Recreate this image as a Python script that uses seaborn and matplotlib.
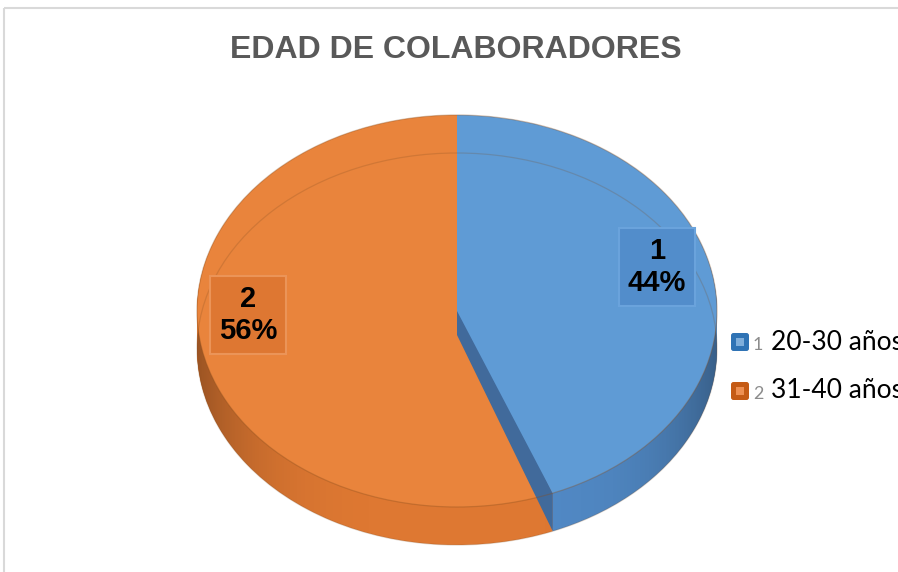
import matplotlib
matplotlib.use("Agg")
import matplotlib.pyplot as plt
from matplotlib.patches import Polygon, Ellipse, FancyBboxPatch
from matplotlib.transforms import Affine2D
import numpy as np
import seaborn as sns

# ---- data ----
categories = ["20-30 años", "31-40 años"]
slice_ids = ["1", "2"]
shares = [44, 56]
title = "EDAD DE COLABORADORES"

sns.set_theme(style="white")
plt.rcParams["font.family"] = ["Liberation Sans", "DejaVu Sans"]

top_colors = ["#5F9BD5", "#E9843C"]
side_colors = ["#5189C5", "#DE7832"]
band_color = "#416A9B"

W, H = 898, 572
fig = plt.figure(figsize=(W / 100, H / 100), dpi=100)
ax = fig.add_axes([0, 0, 1, 1])

# pie geometry (pixel-like data units, y up)
cx, cy = 457, H - 311
rx, ry = 260, 196
depth = 38
k = ry / rx


def squash(yc):
    return Affine2D().translate(-cx, -yc).scale(1, k).translate(cx, yc) + ax.transData


# side walls: stacked layers from the base up
for d in range(depth, 0, -1):
    wedges, _ = ax.pie(shares, colors=side_colors, startangle=90, counterclock=False,
                       radius=rx, center=(cx, cy - d),
                       wedgeprops=dict(linewidth=0, antialiased=True))
    for w in wedges:
        w.set_transform(squash(cy - d))
        w.set_zorder(1)

# darker shading toward the left and right ends of the side wall
t = np.linspace(-1, 1, 400)
shade = np.zeros((2, t.size, 4))
shade[..., 3] = 0.30 * np.abs(t) ** 4
img = ax.imshow(shade, extent=[cx - rx, cx + rx, cy - ry - depth, cy],
                aspect="auto", zorder=1.5, interpolation="bilinear")
base_clip = Ellipse((cx, cy - depth), 2 * rx, 2 * ry, transform=ax.transData)
img.set_clip_path(base_clip)

# top faces
top_wedges, _ = ax.pie(shares, colors=top_colors, startangle=90, counterclock=False,
                       radius=rx, center=(cx, cy),
                       wedgeprops=dict(linewidth=0, antialiased=True))
for w in top_wedges:
    w.set_transform(squash(cy))
top_wedges[1].set_zorder(3)
top_wedges[0].set_zorder(5)

# exposed radial wall of the first slice
theta = np.deg2rad(90 - 360 * shares[0] / sum(shares))
rim = (cx + rx * np.cos(theta), cy + ry * np.sin(theta))
band = Polygon([(cx, cy + 14), rim, (rim[0], rim[1] - depth), (cx, cy + 14 - depth)],
               closed=True, facecolor=band_color, edgecolor="none", zorder=4)
ax.add_patch(band)

# bevel outlines
ax.add_patch(Ellipse((cx, cy - depth), 2 * rx, 2 * ry, fill=False,
                     edgecolor="#7a4a20", alpha=0.22, linewidth=0.9, zorder=6))
ax.add_patch(Ellipse((cx, cy), 2 * rx, 2 * ry, fill=False,
                     edgecolor="#8a4e1c", alpha=0.35, linewidth=0.9, zorder=6))

# data labels
label_pos = [(657, H - 267), (248, H - 315)]
label_fill = ["#528DCB", "#DE7732"]
label_edge = ["#6AA3DC", "#EB9458"]
for sid, val, (lx, ly), fc, ec in zip(slice_ids, shares, label_pos, label_fill, label_edge):
    ax.text(lx, ly, f"{sid}\n{val}%", ha="center", va="center", fontsize=21,
            fontweight="bold", color="black", linespacing=1.2, zorder=8,
            bbox=dict(boxstyle="square,pad=0.3", facecolor=fc, edgecolor=ec, linewidth=1.5))

# legend
leg_y = [H - 342, H - 391]
marker_fill = ["#2F73B5", "#C55B15"]
marker_inner = ["#7FAEDB", "#EE9052"]
for sid, cat, yy, mf, mi in zip(slice_ids, categories, leg_y, marker_fill, marker_inner):
    ax.add_patch(FancyBboxPatch((731, yy - 9), 18, 18, boxstyle="round,pad=0,rounding_size=2.5",
                                facecolor=mf, edgecolor="none", zorder=8))
    ax.add_patch(FancyBboxPatch((736, yy - 4), 8, 8, boxstyle="square,pad=0",
                                facecolor=mi, edgecolor="none", zorder=9))
    ax.text(753, yy - 3, sid, ha="left", va="center", fontsize=13, color="#8C8C8C",
            family=["Lato", "DejaVu Sans"], zorder=8)
    ax.text(771, yy, cat, ha="left", va="center", fontsize=19, color="black",
            family=["Lato", "DejaVu Sans"], zorder=8)

# title
ax.text(456, H - 50, title, ha="center", va="center", fontsize=23, fontweight="bold",
        color="#595959", zorder=8)

# chart area border
ax.plot([4, W], [H - 8, H - 8], color="#D9D9D9", linewidth=1.5, zorder=10, solid_capstyle="butt")
ax.plot([4, 4], [H - 8, 0], color="#D9D9D9", linewidth=1.5, zorder=10, solid_capstyle="butt")

ax.set_xlim(0, W)
ax.set_ylim(0, H)
ax.set_aspect("auto")
ax.axis("off")

fig.savefig("out.png", dpi=100, facecolor="white")
